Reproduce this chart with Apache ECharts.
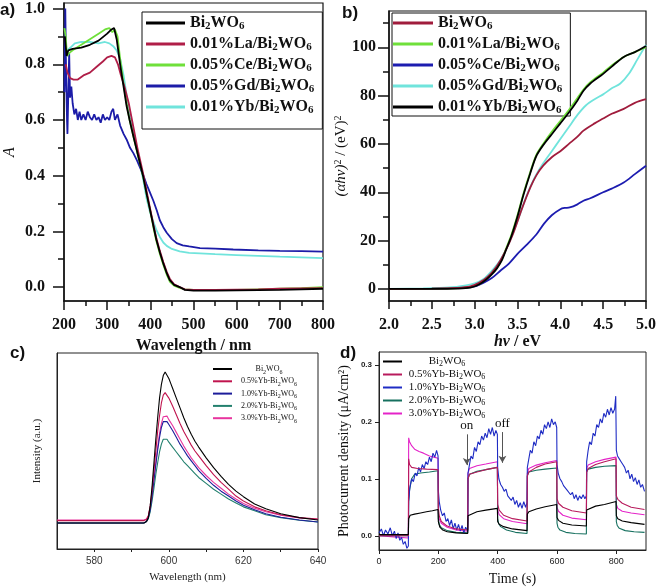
<!DOCTYPE html>
<html><head><meta charset="utf-8">
<script src="https://cdn.jsdelivr.net/npm/echarts@6/dist/echarts.min.js"></script>
<style>html,body{margin:0;padding:0;background:#fff}#c{width:661px;height:588px}</style>
</head><body><div id="c"></div>
<script>
// ---------- Panel a: absorbance vs wavelength ----------
const aNames = ['Bi2WO6','0.01%La/Bi2WO6','0.05%Ce/Bi2WO6','0.05%Gd/Bi2WO6','0.01%Yb/Bi2WO6'];
const aColors = ['#000000','#b01e48','#6fe03a','#1c1ca8','#70e4dc'];
const aBi = [[202,0.9],[206,0.83],[210,0.85],[220,0.855],[240,0.86],[260,0.87],[280,0.885],[300,0.91],[310,0.925],[316,0.93],[322,0.89],[330,0.8],[337,0.73],[345,0.65],[352,0.6],[361,0.54],[372,0.47],[383,0.4],[392,0.33],[399,0.28],[407,0.22],[414,0.17],[422,0.125],[430,0.085],[438,0.05],[445,0.025],[455,0.008],[468,0.0],[480,-0.01],[500,-0.013],[550,-0.013],[600,-0.012],[650,-0.011],[700,-0.01],[750,-0.008],[800,-0.006]];
const aLa = [[204,0.8],[208,0.77],[214,0.75],[222,0.745],[232,0.745],[245,0.76],[260,0.77],[275,0.79],[290,0.81],[300,0.825],[310,0.83],[318,0.825],[325,0.8],[332,0.76],[340,0.72],[350,0.66],[360,0.58],[370,0.5],[383,0.41],[392,0.34],[399,0.285],[407,0.225],[414,0.175],[422,0.13],[430,0.09],[438,0.055],[445,0.03],[455,0.01],[468,0.0],[480,-0.008],[500,-0.01],[550,-0.01],[600,-0.009],[650,-0.008],[700,-0.006],[750,-0.005],[800,-0.004]];
const aCe = [[201,0.93],[204,0.9],[207,0.83],[212,0.84],[220,0.85],[240,0.87],[260,0.89],[280,0.91],[295,0.925],[305,0.93],[312,0.915],[318,0.925],[324,0.9],[330,0.82],[337,0.74],[345,0.66],[352,0.6],[361,0.54],[372,0.47],[383,0.4],[392,0.33],[399,0.28],[407,0.215],[414,0.165],[422,0.12],[430,0.08],[438,0.045],[445,0.02],[455,0.005],[468,-0.003],[480,-0.008],[500,-0.01],[550,-0.011],[600,-0.01],[650,-0.008],[700,-0.006],[750,-0.004],[800,0.0]];
const aGd = [[201,0.7],[203,1.0],[205,0.75],[207,0.6],[208,0.55],[210,0.7],[212,0.84],[214,0.68],[217,0.72],[220,0.66],[224,0.62],[228,0.64],[232,0.6],[236,0.63],[240,0.6],[245,0.62],[250,0.6],[255,0.63],[260,0.61],[265,0.6],[270,0.62],[275,0.6],[280,0.61],[285,0.59],[290,0.62],[295,0.6],[300,0.61],[305,0.6],[310,0.63],[314,0.64],[318,0.6],[324,0.62],[330,0.58],[338,0.55],[345,0.53],[353,0.5],[361,0.48],[369,0.455],[376,0.43],[384,0.4],[391,0.37],[399,0.34],[407,0.31],[415,0.275],[422,0.24],[430,0.215],[438,0.195],[450,0.172],[461,0.158],[475,0.15],[490,0.146],[515,0.14],[550,0.138],[592,0.135],[650,0.132],[700,0.13],[750,0.129],[800,0.127]];
const aYb = [[203,0.83],[207,0.85],[215,0.86],[225,0.875],[240,0.88],[260,0.88],[280,0.875],[295,0.88],[305,0.875],[314,0.865],[322,0.85],[330,0.82],[338,0.76],[345,0.69],[353,0.62],[361,0.55],[372,0.47],[383,0.39],[391,0.32],[399,0.27],[407,0.235],[414,0.205],[422,0.18],[430,0.16],[438,0.148],[450,0.137],[468,0.128],[490,0.123],[515,0.121],[550,0.118],[600,0.115],[650,0.112],[700,0.109],[750,0.107],[800,0.104]];
const aYLabels = [0,0.2,0.4,0.6,0.8,1.0];
const aYMinor = [0.1,0.3,0.5,0.7,0.9];

// ---------- Panel b: Tauc plot ----------
const bNames = ['Bi2WO6','0.01%La/Bi2WO6','0.05%Ce/Bi2WO6','0.05%Gd/Bi2WO6','0.01%Yb/Bi2WO6'];
const bColors = ['#a01c3c','#6fe03a','#1c1cb0','#70e4dc','#000000'];
const bBi = [[2.0,0],[2.5,0.1],[2.8,0.4],[2.95,1],[3.05,2.5],[3.15,5],[3.25,9],[3.35,15],[3.45,23],[3.55,33],[3.65,42],[3.72,47],[3.8,51],[3.9,54.5],[4.0,57],[4.1,60],[4.2,63],[4.27,65.5],[4.4,68.5],[4.5,70.5],[4.6,72.5],[4.74,74.5],[4.87,77],[5.0,78.5]];
const bLa = [[2.0,0],[2.5,0.1],[2.8,0.3],[2.95,0.8],[3.05,2],[3.14,4.2],[3.2,6.3],[3.26,8.8],[3.32,12.5],[3.37,17],[3.43,22.5],[3.5,30.5],[3.57,39.5],[3.65,48.5],[3.72,55.5],[3.8,60],[3.9,65],[4.0,69.5],[4.1,74],[4.2,79],[4.27,82.5],[4.35,85.5],[4.5,89.5],[4.6,92.5],[4.74,96],[4.87,98],[5.0,100]];
const bCe = [[2.0,0],[2.5,0.1],[2.9,0.5],[3.0,1],[3.1,2.5],[3.2,4.5],[3.3,7.5],[3.4,10.5],[3.5,14.5],[3.6,18],[3.72,22.5],[3.81,27],[3.9,30.5],[4.0,33],[4.05,33.5],[4.11,33.7],[4.2,35],[4.27,36.5],[4.35,37.5],[4.5,40],[4.6,41.5],[4.74,44],[4.87,47.5],[5.0,51]];
const bGd = [[2.0,0],[2.4,0.2],[2.7,0.6],[2.9,1.5],[3.0,2.3],[3.1,4],[3.2,7.5],[3.3,12],[3.4,19],[3.5,28],[3.6,38],[3.7,46],[3.8,52],[3.9,57],[4.0,62],[4.1,67],[4.2,72],[4.3,76],[4.4,78.5],[4.5,80.5],[4.6,83],[4.7,85],[4.8,89],[4.9,95],[5.0,101]];
const bYb = [[2.0,0],[2.5,0],[2.8,0.1],[2.95,0.5],[3.05,1.8],[3.14,4],[3.2,6],[3.26,8.5],[3.32,12],[3.37,16.5],[3.43,22],[3.5,30],[3.57,39],[3.65,48],[3.72,55],[3.8,59.5],[3.9,64],[4.0,68.5],[4.1,73],[4.2,78],[4.27,82],[4.35,85],[4.5,89],[4.6,92],[4.74,96],[4.87,98],[5.0,100.5]];
const bYLabels = [0,20,40,60,80,100];
const bYMinor = [10,30,50,70,90,110];

// ---------- Panel c: PL spectra ----------
const cNames = ['Bi2WO6','0.5%Yb-Bi2WO6','1.0%Yb-Bi2WO6','2.0%Yb-Bi2WO6','3.0%Yb-Bi2WO6'];
const cColors = ['#000000','#c0144e','#1c1c9a','#23806e','#e8349e'];
const cBi = [[570,13.3],[580,13.3],[590,13.3],[593.3,13.3],[594,14],[594.5,16],[595,22],[595.5,32],[596,44],[596.5,56],[597,67],[597.5,77],[598,84],[598.5,88.5],[599,90.3],[599.5,89.5],[600,87],[600.5,84.5],[601,82],[602,77],[603,72],[604,67],[605,62.5],[606,58.5],[607,55],[608,52],[610,46.5],[612,41.5],[614,37],[616,33],[618,29.5],[620,26.7],[623,23],[626,20.5],[630,18],[635,16],[640,14.8]];
const c05 = [[570,14.5],[593.3,14.5],[594,15],[594.5,17],[595,22],[595.5,30],[596,40],[596.5,50],[597,60],[597.5,68],[598,74.5],[598.5,78.5],[599,79.8],[599.5,79],[600,77],[601,73],[602,68.5],[603,64],[604,60],[605,56.5],[606,53],[607,50],[608,47.5],[610,42.5],[612,38],[614,34],[616,30.5],[618,27],[620,24.5],[623,21.5],[626,19.5],[630,17.5],[635,16],[640,15.3]];
const c10 = [[570,13.3],[593.3,13.3],[594,14],[594.5,16],[595,20],[595.5,27],[596,35],[596.5,43],[597,50.5],[597.5,57],[598,62],[598.5,65],[599,65.8],[599.5,65],[600,63.5],[601,60.5],[602,57],[603,53.5],[604,50.5],[605,47.5],[606,45],[607,42.5],[608,40],[610,36],[612,32.5],[614,29.5],[616,27],[618,24.5],[620,22.3],[623,20],[626,18],[630,16.2],[635,14.8],[640,13.8]];
const c20 = [[570,13.3],[593.3,13.3],[594,14],[594.5,15.5],[595,19],[595.5,24.5],[596,31],[596.5,38],[597,44],[597.5,49.5],[598,53.5],[598.5,56],[599,56.5],[599.5,56],[600,54.5],[601,52],[602,49.5],[603,47],[604,44.5],[605,42.5],[606,40.5],[607,38.5],[608,36.5],[610,33.5],[612,30.5],[614,28],[616,25.5],[618,23.5],[620,21.5],[623,19.5],[626,17.5],[630,16],[635,14.7],[640,13.8]];
const c30 = [[570,14.8],[593.3,14.8],[594,15.3],[594.5,17],[595,21],[595.5,28],[596,36],[596.5,44],[597,52],[597.5,59],[598,64],[598.5,67.5],[599,68.4],[599.5,67.8],[600,66],[601,63],[602,59.5],[603,56],[604,52.5],[605,49.5],[606,46.5],[607,44],[608,41.5],[610,37.5],[612,34],[614,31],[616,28],[618,25.5],[620,23.2],[623,20.8],[626,19],[630,17.2],[635,15.8],[640,15.2]];
const cXLabels = [580,600,620,640];
const cXTicks = [580,590,600,610,620,630,640];

// ---------- Panel d: photocurrent ----------
const dNames = ['Bi2WO6','0.5%Yb-Bi2WO6','1.0%Yb-Bi2WO6','2.0%Yb-Bi2WO6','3.0%Yb-Bi2WO6'];
const dColors = ['#000000','#b81a5c','#1f2cc4','#16705f','#e423c8'];
const dBi = [[0,0.002],[50,0.002],[99,0.002],[100,0.03],[105,0.036],[120,0.038],[140,0.04],[160,0.042],[180,0.044],[199,0.046],[200,0.025],[205,0.015],[215,0.01],[230,0.007],[260,0.005],[299,0.004],[300,0.035],[305,0.038],[330,0.042],[360,0.045],[399,0.048],[400,0.025],[405,0.02],[420,0.016],[450,0.012],[499,0.009],[500,0.038],[505,0.042],[530,0.047],[560,0.051],[599,0.055],[600,0.032],[605,0.027],[620,0.022],[650,0.019],[699,0.017],[700,0.045],[705,0.048],[730,0.052],[760,0.055],[799,0.06],[800,0.035],[805,0.03],[820,0.026],[850,0.023],[895,0.02]];
const d05 = [[0,0.0],[99,0.0],[100,0.135],[103,0.125],[110,0.12],[130,0.118],[160,0.117],[199,0.116],[200,0.05],[203,0.035],[210,0.025],[230,0.017],[260,0.012],[299,0.01],[300,0.1],[305,0.108],[330,0.112],[360,0.116],[399,0.12],[400,0.055],[405,0.045],[420,0.036],[450,0.03],[499,0.026],[500,0.105],[505,0.112],[530,0.12],[560,0.126],[599,0.13],[600,0.065],[605,0.057],[620,0.05],[650,0.044],[699,0.04],[700,0.112],[705,0.118],[730,0.125],[760,0.13],[799,0.135],[800,0.07],[805,0.064],[820,0.057],[850,0.05],[895,0.046]];
const d10 = [[0,0.005],[8,0.012],[15,0.0],[22,0.01],[30,0.003],[38,0.014],[45,0.0],[52,0.008],[58,-0.005],[64,0.005],[70,-0.008],[76,-0.003],[82,-0.015],[88,-0.01],[94,-0.022],[99,-0.018],[100,0.06],[104,0.085],[110,0.1],[116,0.095],[122,0.11],[128,0.105],[134,0.12],[140,0.112],[146,0.125],[152,0.118],[158,0.13],[164,0.125],[170,0.138],[176,0.13],[182,0.145],[188,0.138],[194,0.15],[199,0.14],[200,0.08],[203,0.06],[208,0.045],[214,0.035],[220,0.04],[226,0.025],[232,0.03],[238,0.018],[244,0.028],[250,0.012],[256,0.022],[262,0.01],[268,0.02],[274,0.008],[280,0.018],[286,0.005],[292,0.015],[299,0.008],[300,0.11],[305,0.125],[310,0.14],[316,0.135],[322,0.155],[328,0.148],[334,0.165],[340,0.16],[346,0.175],[352,0.168],[358,0.18],[364,0.172],[370,0.188],[376,0.178],[382,0.19],[388,0.175],[394,0.185],[399,0.178],[400,0.12],[404,0.1],[410,0.09],[416,0.085],[422,0.078],[428,0.082],[434,0.07],[440,0.072],[446,0.062],[452,0.068],[458,0.055],[464,0.062],[470,0.05],[476,0.058],[482,0.048],[488,0.06],[494,0.05],[499,0.058],[500,0.12],[505,0.135],[510,0.15],[516,0.145],[522,0.165],[528,0.158],[534,0.175],[540,0.17],[546,0.185],[552,0.178],[558,0.195],[564,0.188],[570,0.2],[576,0.19],[582,0.205],[588,0.195],[594,0.2],[599,0.19],[600,0.125],[604,0.11],[610,0.1],[616,0.095],[622,0.088],[628,0.09],[634,0.08],[640,0.083],[646,0.072],[652,0.076],[658,0.065],[664,0.072],[670,0.062],[676,0.07],[682,0.065],[688,0.072],[694,0.065],[699,0.07],[700,0.13],[705,0.15],[710,0.165],[716,0.16],[722,0.18],[728,0.175],[734,0.195],[740,0.19],[746,0.205],[752,0.198],[758,0.215],[764,0.208],[770,0.222],[776,0.212],[782,0.225],[788,0.215],[794,0.222],[798,0.245],[800,0.15],[804,0.14],[810,0.135],[816,0.13],[822,0.125],[828,0.12],[834,0.11],[840,0.115],[846,0.1],[852,0.108],[858,0.095],[864,0.102],[870,0.09],[876,0.098],[882,0.085],[888,0.09],[895,0.078]];
const d20 = [[0,0.0],[99,0.0],[100,0.06],[103,0.08],[110,0.1],[120,0.108],[140,0.11],[170,0.112],[199,0.114],[200,0.03],[203,0.02],[210,0.014],[230,0.009],[260,0.006],[299,0.005],[300,0.1],[305,0.108],[330,0.113],[360,0.116],[399,0.12],[400,0.03],[403,0.022],[410,0.016],[430,0.01],[460,0.006],[499,0.004],[500,0.105],[505,0.112],[530,0.115],[560,0.117],[599,0.119],[600,0.022],[603,0.015],[610,0.01],[630,0.006],[660,0.004],[699,0.003],[700,0.112],[705,0.117],[730,0.12],[760,0.122],[799,0.123],[800,0.025],[803,0.018],[810,0.013],[830,0.009],[860,0.007],[895,0.006]];
const d30 = [[0,0.0],[50,-0.002],[99,-0.004],[100,0.172],[103,0.165],[110,0.158],[120,0.152],[135,0.148],[150,0.145],[170,0.14],[185,0.138],[199,0.136],[200,0.04],[203,0.03],[210,0.022],[230,0.015],[260,0.01],[299,0.008],[300,0.11],[305,0.118],[330,0.123],[360,0.126],[399,0.13],[400,0.045],[405,0.037],[420,0.03],[450,0.025],[499,0.021],[500,0.11],[505,0.118],[530,0.124],[560,0.128],[599,0.132],[600,0.05],[605,0.043],[620,0.036],[650,0.031],[699,0.028],[700,0.118],[705,0.124],[730,0.13],[760,0.134],[799,0.138],[800,0.055],[805,0.048],[820,0.043],[850,0.04],[895,0.037]];
const dXLabels = [0,200,400,600,800];
const dYLabels = [0,0.1,0.2,0.3];
const dArrows = [{name:'on', t:296, from:0.178, to:0.124},{name:'off', t:416, from:0.182, to:0.128}];

// ---------- build ----------
const SERIF = '"Liberation Serif","Times New Roman",serif';
const SANS = '"Liberation Sans",Arial,sans-serif';

function subFmt(name){ // plain-text run with rich subscripts
  return name.replace(/^[a-d]:/,'').replace('Bi2WO6','Bi{s|2}WO{s|6}');
}
function centeredFmt(name){
  const n = name.replace(/^[a-d]:/,'');
  const pre = n.replace('Bi2WO6','Bi');
  return '{t|' + pre + '}{s|2}{t|WO}{s|6}';
}

const series = [];
function addSeries(prefix, names, colors, datas, xi, yi, width, smooth){
  names.forEach((n,i)=>{
    series.push({type:'line', name:prefix+n, xAxisIndex:xi, yAxisIndex:yi, data:datas[i],
      showSymbol:false, smooth:smooth, lineStyle:{color:colors[i], width:width}, itemStyle:{color:colors[i]},
      animation:false, silent:true, z: 10 - i});
  });
}
addSeries('a:', aNames, aColors, [aBi,aLa,aCe,aGd,aYb], 0, 0, 1.8, false);
addSeries('b:', bNames, bColors, [bBi,bLa,bCe,bGd,bYb], 1, 1, 1.8, 0.3);
addSeries('c:', cNames, cColors, [cBi,c05,c10,c20,c30], 2, 2, 1.1, false);
addSeries('d:', dNames, dColors, [dBi,d05,d10,d20,d30], 3, 3, 1.1, false);
// put Yb (black) on top in panel b
series.forEach(s=>{ if(s.name==='b:0.01%Yb/Bi2WO6') s.z = 12; });
// arrows in panel d
series.find(s=>s.name==='d:Bi2WO6').markLine = {
  silent:true, animation:false, symbol:['none','arrow'], symbolSize:[6,7],
  lineStyle:{color:'#555', width:1, type:'solid'},
  label:{show:true, position:'start', distance:2, formatter:p=>p.name, fontFamily:SERIF, fontSize:13, color:'#111'},
  data: dArrows.map(a=>[{name:a.name, coord:[a.t,a.from]},{coord:[a.t,a.to]}])
};

const bigTick = {fontFamily:SERIF, fontWeight:'bold', fontSize:16, color:'#111'};
const legendBigText = {fontFamily:SERIF, fontWeight:'bold', fontSize:16, color:'#111', lineHeight:18,
  rich:{s:{fontFamily:SERIF, fontWeight:'bold', fontSize:11, color:'#111', verticalAlign:'bottom', lineHeight:7}}};

function smallLegendText(fs, w, lh){
  return {width:w, fontFamily:SERIF, fontSize:fs, color:'#111', lineHeight:lh,
    rich:{t:{fontFamily:SERIF, fontSize:fs, color:'#111', align:'center', lineHeight:lh},
          s:{fontFamily:SERIF, fontSize:Math.round(fs*0.72), color:'#111', align:'center', verticalAlign:'bottom', lineHeight:Math.round(lh*0.45)}}};
}

const option = {
  backgroundColor:'#fff',
  animation:false,
  grid:[
    {left:64, top:3, width:259, height:298, show:true, borderColor:'#111', borderWidth:1.2, backgroundColor:'transparent'},
    {left:389, top:11, width:257, height:290, show:true, borderColor:'#111', borderWidth:1.2, backgroundColor:'transparent'},
    {left:57, top:353, width:261, height:196, show:true, borderColor:'#222', borderWidth:1, backgroundColor:'transparent'},
    {left:379, top:352, width:267, height:198, show:true, borderColor:'#222', borderWidth:1, backgroundColor:'transparent'}
  ],
  xAxis:[
    {type:'value', gridIndex:0, min:200, max:800, interval:100, splitLine:{show:false},
      axisLine:{onZero:false, lineStyle:{color:'#111', width:1.5}},
      axisTick:{length:9, lineStyle:{color:'#111', width:1.5}},
      minorTick:{show:true, splitNumber:2, length:5, lineStyle:{color:'#111', width:1.5}},
      axisLabel:Object.assign({margin:16}, bigTick),
      name:'Wavelength / nm', nameLocation:'middle', nameGap:26,
      nameTextStyle:{fontFamily:SERIF, fontWeight:'bold', fontSize:16, color:'#111'}},
    {type:'value', gridIndex:1, min:2, max:5, interval:0.5, splitLine:{show:false},
      axisLine:{onZero:false, lineStyle:{color:'#111', width:1.5}},
      axisTick:{length:8, lineStyle:{color:'#111', width:1.5}},
      minorTick:{show:true, splitNumber:2, length:5, lineStyle:{color:'#111', width:1.5}},
      axisLabel:Object.assign({margin:16, formatter:v=>v.toFixed(1)}, bigTick),
      name:'{i|hν} / eV', nameLocation:'middle', nameGap:26,
      nameTextStyle:{fontFamily:SERIF, fontWeight:'bold', fontSize:16, color:'#111',
        rich:{i:{fontFamily:SERIF, fontStyle:'italic', fontWeight:'bold', fontSize:16, color:'#111'}}}},
    {type:'value', gridIndex:2, min:570, max:640, splitLine:{show:false},
      axisLine:{onZero:false, lineStyle:{color:'#222', width:1}},
      axisTick:{length:3, customValues:cXTicks, lineStyle:{color:'#222'}},
      axisLabel:{customValues:cXLabels, margin:7, fontFamily:SANS, fontSize:10, color:'#333'},
      name:'Wavelength (nm)', nameLocation:'middle', nameGap:23,
      nameTextStyle:{fontFamily:SERIF, fontSize:11, color:'#222'}},
    {type:'value', gridIndex:3, min:0, max:900, splitLine:{show:false},
      axisLine:{onZero:false, lineStyle:{color:'#222', width:1}},
      axisTick:{length:4, customValues:dXLabels, lineStyle:{color:'#222'}},
      axisLabel:{customValues:dXLabels, margin:7, fontFamily:SANS, fontSize:9, color:'#222'},
      name:'Time (s)', nameLocation:'middle', nameGap:22,
      nameTextStyle:{fontFamily:SERIF, fontSize:14, color:'#111'}}
  ],
  yAxis:[
    {type:'value', gridIndex:0, position:'left', min:-0.05, max:1.02, splitLine:{show:false},
      axisLine:{onZero:false, lineStyle:{color:'#111', width:1.5}},
      axisTick:{length:11, customValues:aYLabels, lineStyle:{color:'#111', width:1.5}},
      axisLabel:Object.assign({customValues:aYLabels, margin:19, formatter:v=>v.toFixed(1)}, bigTick),
      name:'A', nameLocation:'middle', nameGap:46, nameRotate:90,
      nameTextStyle:{fontFamily:SERIF, fontStyle:'italic', fontSize:16, color:'#111'}},
    {type:'value', gridIndex:1, position:'left', min:-5, max:115, splitLine:{show:false},
      axisLine:{onZero:false, lineStyle:{color:'#111', width:1.5}},
      axisTick:{length:11, customValues:bYLabels, lineStyle:{color:'#111', width:1.5}},
      axisLabel:Object.assign({customValues:bYLabels, margin:13}, bigTick),
      name:'{i|(αhν)}{p|2}{n| / (eV)}{p|2}', nameLocation:'middle', nameGap:40, nameRotate:90,
      nameTextStyle:{fontFamily:SERIF, fontSize:15, color:'#111',
        rich:{i:{fontFamily:SERIF, fontStyle:'italic', fontSize:15, color:'#111'},
              n:{fontFamily:SERIF, fontSize:15, color:'#111'},
              p:{fontFamily:SERIF, fontSize:10, color:'#111', verticalAlign:'top', lineHeight:8}}}},
    {type:'value', gridIndex:2, position:'left', min:0, max:100, splitLine:{show:false},
      axisLine:{onZero:false, lineStyle:{color:'#222', width:1}},
      axisTick:{show:false}, axisLabel:{show:false},
      name:'Intensity (a.u.)', nameLocation:'middle', nameGap:14, nameRotate:90,
      nameTextStyle:{fontFamily:SERIF, fontSize:11, color:'#222'}},
    {type:'value', gridIndex:3, position:'left', min:-0.025, max:0.3225, splitLine:{show:false},
      axisLine:{onZero:false, lineStyle:{color:'#222', width:1}},
      axisTick:{length:4, customValues:dYLabels, lineStyle:{color:'#222'}},
      axisLabel:{customValues:dYLabels, margin:7, fontFamily:SANS, fontWeight:'bold', fontSize:8, color:'#222', formatter:v=>v.toFixed(1)},
      name:'Photocurrent density (μA/cm²)', nameLocation:'middle', nameGap:28, nameRotate:90,
      nameTextStyle:{fontFamily:SERIF, fontSize:14, color:'#111'}},
    // minor tick helper axes (left side)
    {type:'value', gridIndex:0, position:'left', offset:0, min:-0.05, max:1.02, splitLine:{show:false}, axisLine:{show:false},
      axisTick:{length:6, customValues:aYMinor, lineStyle:{color:'#111', width:1.5}}, axisLabel:{show:false}},
    {type:'value', gridIndex:1, position:'left', offset:0, min:-5, max:115, splitLine:{show:false}, axisLine:{show:false},
      axisTick:{length:6, customValues:bYMinor, lineStyle:{color:'#111', width:1.5}}, axisLabel:{show:false}}
  ],
  legend:[
    {data:aNames.map(n=>'a:'+n), left:142, top:12, orient:'vertical', icon:'rect', itemWidth:39, itemHeight:3, itemGap:3,
      padding:[2,8,13,4], borderColor:'#111', borderWidth:1, backgroundColor:'#fff', selectedMode:false,
      formatter:subFmt, textStyle:legendBigText},
    {data:bNames.map(n=>'b:'+n), left:392, top:13, orient:'vertical', icon:'rect', itemWidth:40, itemHeight:3, itemGap:3,
      padding:[1,8,0,1], borderColor:'#111', borderWidth:1, backgroundColor:'#fff', selectedMode:false,
      formatter:subFmt, textStyle:legendBigText},
    {data:cNames.map(n=>'c:'+n), left:213, top:363, orient:'vertical', icon:'rect', itemWidth:19, itemHeight:2, itemGap:0.3,
      padding:0, selectedMode:false, formatter:centeredFmt, textStyle:smallLegendText(8,64,12)},
    {data:dNames.map(n=>'d:'+n), left:383, top:355, orient:'vertical', icon:'rect', itemWidth:19, itemHeight:2, itemGap:0,
      padding:0, selectedMode:false, formatter:centeredFmt, textStyle:smallLegendText(11,80,13)}
  ],
  graphic:[
    {type:'text', left:0, top:2, style:{text:'a)', fontFamily:SANS, fontWeight:'bold', fontSize:17, fill:'#111'}},
    {type:'text', left:342, top:5, style:{text:'b)', fontFamily:SANS, fontWeight:'bold', fontSize:17, fill:'#111'}},
    {type:'text', left:10, top:345, style:{text:'c)', fontFamily:SANS, fontWeight:'bold', fontSize:17, fill:'#111'}},
    {type:'text', left:340, top:345, style:{text:'d)', fontFamily:SANS, fontWeight:'bold', fontSize:17, fill:'#111'}}
  ],
  series: series
};
const chart = echarts.init(document.getElementById('c'), null, {renderer:'canvas'});
chart.setOption(option);
</script>
</body></html>
